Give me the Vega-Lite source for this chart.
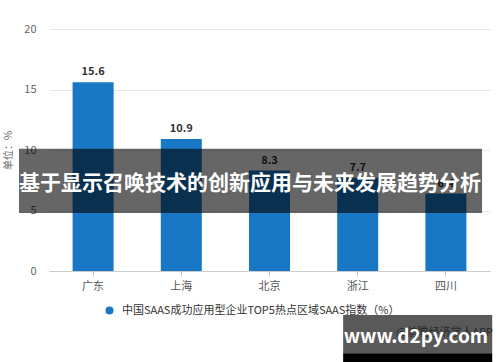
{
  "$schema": "https://vega.github.io/schema/vega-lite/v6.json",
  "width": 441,
  "height": 242,
  "autosize": {"type": "none"},
  "padding": {"left": 49, "top": 29, "right": 10, "bottom": 91},
  "background": "white",
  "config": {
    "view": {"stroke": null},
    "font": "Noto Sans CJK SC"
  },
  "datasets": {
    "bars": [
      {"region": "广东", "value": 15.6, "series": "中国SAAS成功应用型企业TOP5热点区域SAAS指数（%）"},
      {"region": "上海", "value": 10.9, "series": "中国SAAS成功应用型企业TOP5热点区域SAAS指数（%）"},
      {"region": "北京", "value": 8.3, "series": "中国SAAS成功应用型企业TOP5热点区域SAAS指数（%）"},
      {"region": "浙江", "value": 7.7, "series": "中国SAAS成功应用型企业TOP5热点区域SAAS指数（%）"},
      {"region": "四川", "value": 6.4, "series": "中国SAAS成功应用型企业TOP5热点区域SAAS指数（%）"}
    ],
    "banner": [{"text": "基于显示召唤技术的创新应用与未来发展趋势分析"}],
    "stamp": [{"site": "www.d2py.com", "credit": "@前瞻经济学人APP"}]
  },
  "layer": [
    {
      "data": {"name": "bars"},
      "encoding": {
        "x": {
          "field": "region",
          "type": "nominal",
          "sort": null,
          "scale": {"paddingInner": 0.535, "paddingOuter": 0.2675},
          "axis": {
            "title": null,
            "labelAngle": 0,
            "labelFontSize": 11,
            "labelColor": "#555555",
            "domainColor": "#cccccc",
            "tickColor": "#cccccc",
            "tickSize": 5,
            "labelPadding": 4,
            "grid": false
          }
        },
        "y": {
          "field": "value",
          "type": "quantitative",
          "scale": {"domain": [0, 20], "nice": false},
          "axis": {
            "title": "单位：%",
            "titleFontSize": 10,
            "titleColor": "#666666",
            "titleFontWeight": "normal",
            "titlePadding": 10,
            "values": [0, 5, 10, 15, 20],
            "labelFontSize": 11,
            "labelColor": "#666666",
            "gridColor": "#e6e6e6",
            "domain": false,
            "ticks": false,
            "labelPadding": 13
          }
        }
      },
      "layer": [
        {
          "mark": {"type": "bar"},
          "encoding": {
            "color": {
              "field": "series",
              "type": "nominal",
              "scale": {"range": ["#1878c6"]},
              "legend": {
                "orient": "none",
                "legendX": 55,
                "legendY": 276,
                "title": null,
                "symbolType": "circle",
                "symbolSize": 64,
                "symbolStrokeWidth": 0,
                "labelFontSize": 11,
                "labelColor": "#333333",
                "labelLimit": 0,
                "labelOffset": 7,
                "padding": 0
              }
            }
          }
        },
        {
          "mark": {"type": "text", "dy": -7, "baseline": "alphabetic", "fontWeight": "bold", "fontSize": 11, "color": "#333333"},
          "encoding": {"text": {"field": "value", "type": "quantitative", "format": ".1f"}}
        }
      ]
    },
    {
      "layer": [
        {
          "data": {"name": "banner"},
          "mark": {"type": "rect", "color": "#000000", "opacity": 0.6},
          "encoding": {
            "x": {"datum": -0.068, "type": "quantitative", "scale": {"domain": [0, 1]}, "axis": null},
            "x2": {"datum": 0.982},
            "y": {"datum": 10.1, "type": "quantitative", "scale": {"domain": [0, 20], "nice": false}},
            "y2": {"datum": 4.8}
          }
        },
        {
          "data": {"name": "banner"},
          "mark": {"type": "text", "color": "#ffffff", "fontSize": 21, "fontWeight": "bold", "align": "center", "baseline": "middle"},
          "encoding": {
            "x": {"datum": 0.456, "type": "quantitative", "scale": {"domain": [0, 1]}, "axis": null},
            "y": {"datum": 7.2, "type": "quantitative", "scale": {"domain": [0, 20], "nice": false}},
            "text": {"field": "text"}
          }
        },
        {
          "data": {"name": "stamp"},
          "mark": {"type": "text", "color": "#777777", "fontSize": 11, "align": "right", "baseline": "middle"},
          "encoding": {
            "x": {"datum": 1.007, "type": "quantitative", "scale": {"domain": [0, 1]}, "axis": null},
            "y": {"datum": -5.13, "type": "quantitative", "scale": {"domain": [0, 20], "nice": false}},
            "text": {"field": "credit"}
          }
        },
        {
          "data": {"name": "stamp"},
          "mark": {"type": "rect", "color": "#000000", "opacity": 0.65},
          "encoding": {
            "x": {"datum": 0.667, "type": "quantitative", "scale": {"domain": [0, 1]}, "axis": null},
            "x2": {"datum": 1.005},
            "y": {"datum": -3.64, "type": "quantitative", "scale": {"domain": [0, 20], "nice": false}},
            "y2": {"datum": -6.79}
          }
        },
        {
          "data": {"name": "stamp"},
          "mark": {"type": "rect", "color": "#000000", "opacity": 1},
          "encoding": {
            "x": {"datum": 0.667, "type": "quantitative", "scale": {"domain": [0, 1]}, "axis": null},
            "x2": {"datum": 1.005},
            "y": {"datum": -6.79, "type": "quantitative", "scale": {"domain": [0, 20], "nice": false}},
            "y2": {"datum": -7.6}
          }
        },
        {
          "data": {"name": "stamp"},
          "mark": {"type": "text", "color": "#ffffff", "fontSize": 19, "fontWeight": "bold", "align": "center", "baseline": "middle"},
          "encoding": {
            "x": {"datum": 0.832, "type": "quantitative", "scale": {"domain": [0, 1]}, "axis": null},
            "y": {"datum": -5.44, "type": "quantitative", "scale": {"domain": [0, 20], "nice": false}},
            "text": {"field": "site"}
          }
        }
      ]
    }
  ],
  "resolve": {"scale": {"x": "independent"}}
}
